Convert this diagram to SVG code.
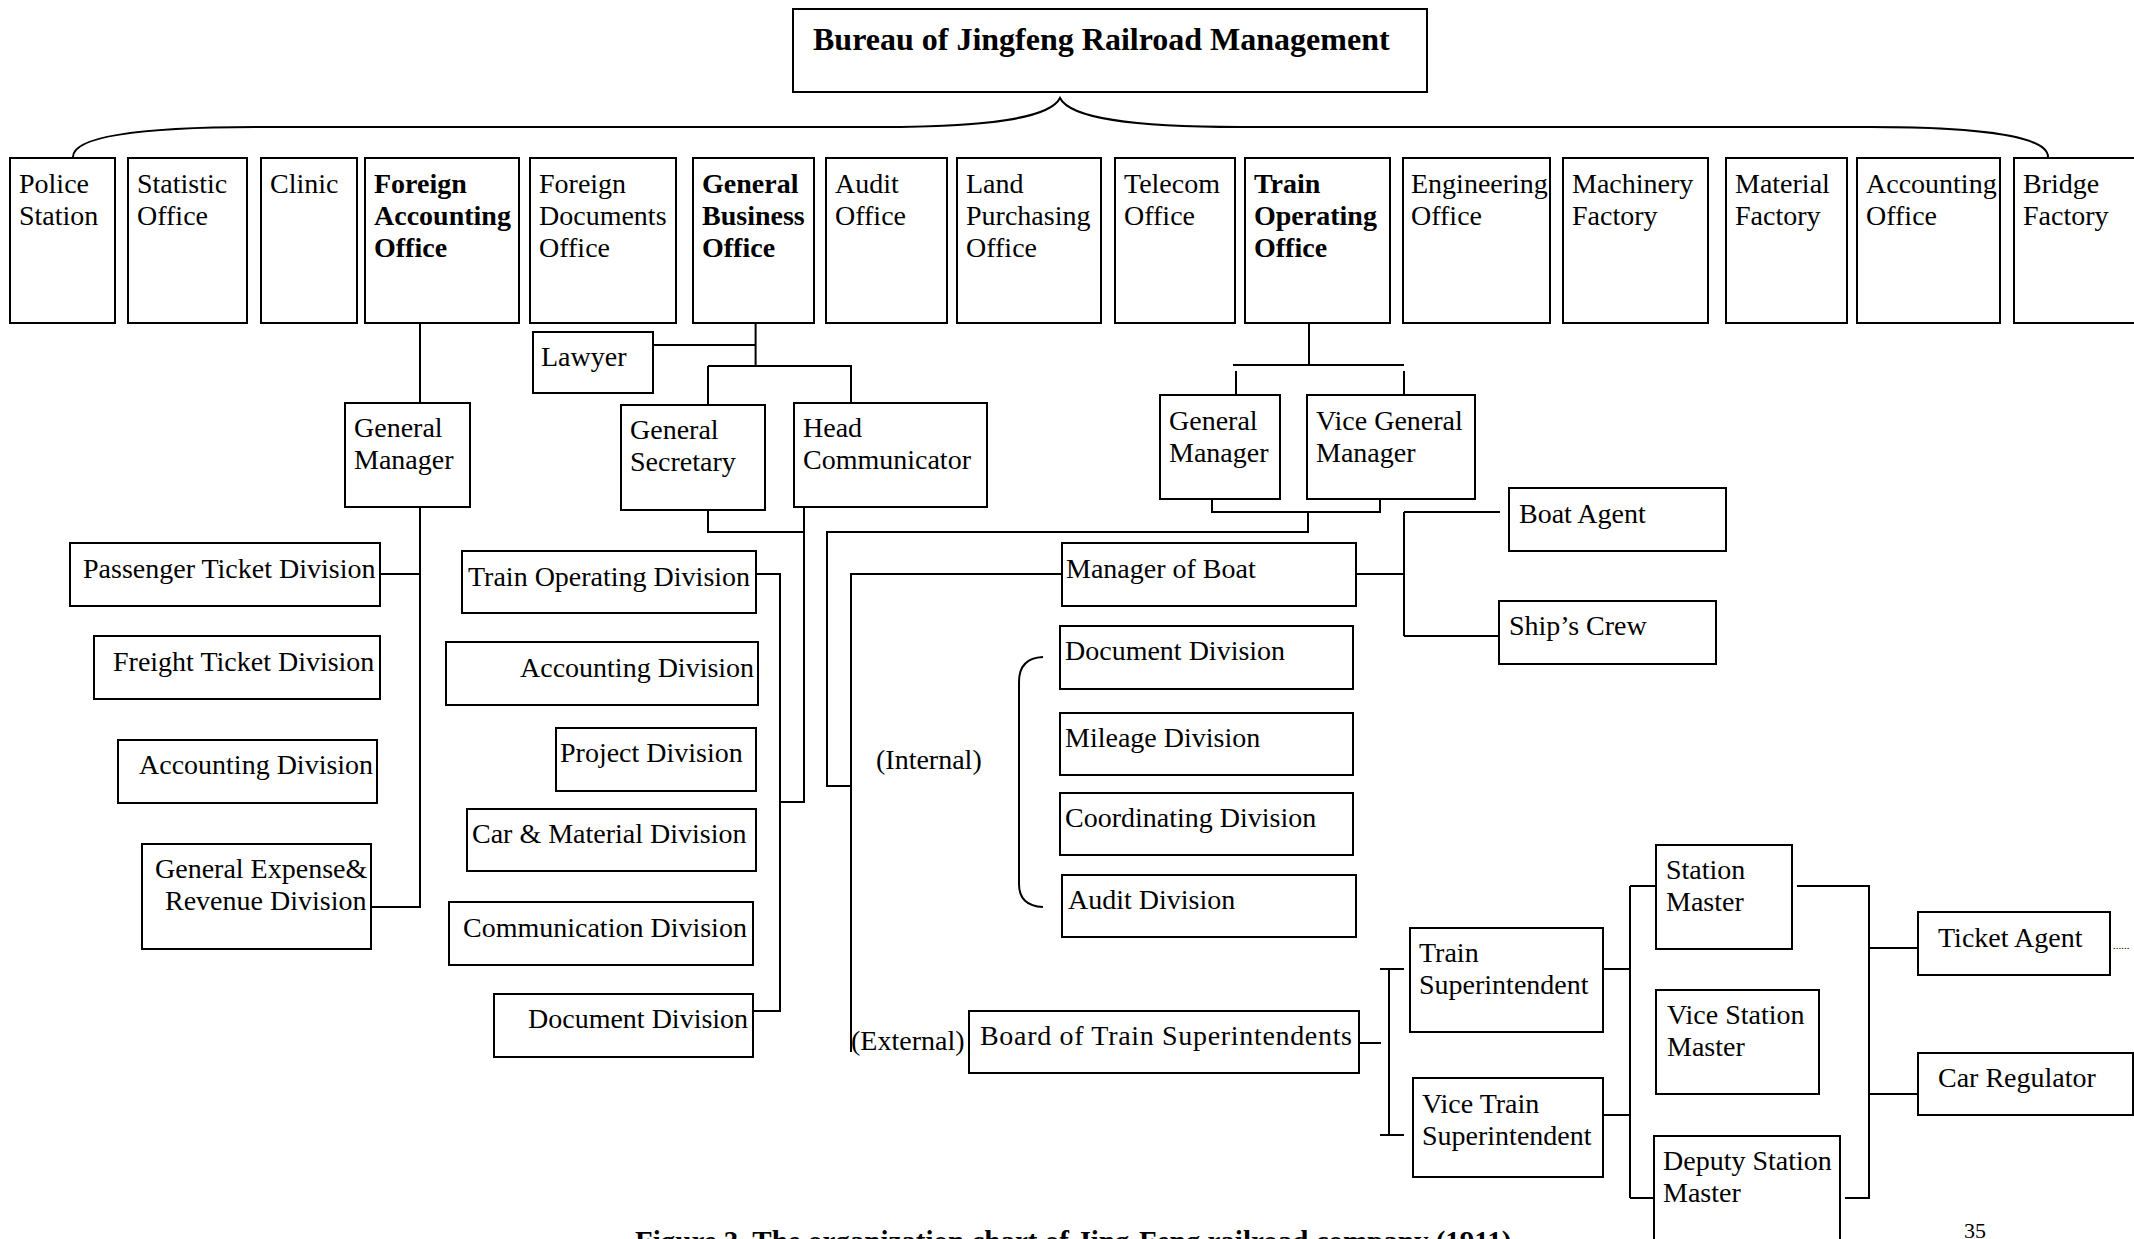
<svg xmlns="http://www.w3.org/2000/svg" width="2134" height="1239" viewBox="0 0 2134 1239">
<style>
rect{fill:#fff;stroke:#000;stroke-width:2}
text{font-family:"Liberation Serif","Times New Roman",serif;font-size:28px;fill:#000}
.b{font-weight:bold}
.t{font-size:32px;font-weight:bold}
#connectors path{fill:none;stroke:#000;stroke-width:2}
</style>
<rect x="0" y="0" width="2134" height="1239" style="stroke:none"/>
<g id="connectors">
<path d="M73,157 C73,136 140,127 260,127 L880,127 C990,127 1050,118 1060,98 C1070,118 1130,127 1240,127 L1870,127 C1990,127 2048,138 2048,157"/>
<path d="M420,323 V403 M420,507 V907 H371 M373,574 H420"/>
<path d="M755.6,323 V366 M653,345 H755.6 M708,366 H851 V403 M708,366 V405"/>
<path d="M708,510 V532 H804 M804,507 V802 H780"/>
<path d="M756,574 H780 V1011 H753"/>
<path d="M1309,323 V365 M1233,365 H1404 M1236,371 V395 M1404,371 V395"/>
<path d="M1212,499 V512 H1380 V499 M1308,512 V532 H827 V786 H851"/>
<path d="M1062,574 H851 V1052"/>
<path d="M1356,574 H1404 M1404,512 V636 M1404,512 H1500 M1404,636 H1499"/>
<path d="M1043,657 Q1019,658 1019,682 V884 Q1019,906 1043,907"/>
<path d="M1358,1043 H1381 M1389,969 V1135 M1380,969 H1404 M1380,1135 H1404"/>
<path d="M1603,969 H1630 M1603,1115 H1630 M1630,886 V1198 M1630,886 H1656 M1630,1198 H1654"/>
<path d="M1797,886 H1869 V1198 H1845 M1869,948 H1918 M1869,1094 H1918"/>
</g>
<g id="bureau"><rect x="793" y="9" width="634" height="83"/><text class="t" x="813" y="50">Bureau of Jingfeng Railroad Management</text></g>
<g id="police"><rect x="10" y="158" width="105" height="165"/><text x="19" y="193">Police</text><text x="19" y="225">Station</text></g>
<g id="statistic"><rect x="128" y="158" width="119" height="165"/><text x="137" y="193">Statistic</text><text x="137" y="225">Office</text></g>
<g id="clinic"><rect x="261" y="158" width="96" height="165"/><text x="270" y="193">Clinic</text></g>
<g id="foreign-accounting"><rect x="365" y="158" width="154" height="165"/><text class="b" x="374" y="193">Foreign</text><text class="b" x="374" y="225">Accounting</text><text class="b" x="374" y="257">Office</text></g>
<g id="foreign-documents"><rect x="530" y="158" width="146" height="165"/><text x="539" y="193">Foreign</text><text x="539" y="225">Documents</text><text x="539" y="257">Office</text></g>
<g id="general-business"><rect x="693" y="158" width="121" height="165"/><text class="b" x="702" y="193">General</text><text class="b" x="702" y="225">Business</text><text class="b" x="702" y="257">Office</text></g>
<g id="audit-office"><rect x="826" y="158" width="121" height="165"/><text x="835" y="193">Audit</text><text x="835" y="225">Office</text></g>
<g id="land"><rect x="957" y="158" width="144" height="165"/><text x="966" y="193">Land</text><text x="966" y="225">Purchasing</text><text x="966" y="257">Office</text></g>
<g id="telecom"><rect x="1115" y="158" width="120" height="165"/><text x="1124" y="193">Telecom</text><text x="1124" y="225">Office</text></g>
<g id="train-operating"><rect x="1245" y="158" width="145" height="165"/><text class="b" x="1254" y="193">Train</text><text class="b" x="1254" y="225">Operating</text><text class="b" x="1254" y="257">Office</text></g>
<g id="engineering"><rect x="1403" y="158" width="147" height="165"/><text x="1411" y="193">Engineering</text><text x="1411" y="225">Office</text></g>
<g id="machinery"><rect x="1563" y="158" width="145" height="165"/><text x="1572" y="193">Machinery</text><text x="1572" y="225">Factory</text></g>
<g id="material"><rect x="1726" y="158" width="121" height="165"/><text x="1735" y="193">Material</text><text x="1735" y="225">Factory</text></g>
<g id="accounting-office"><rect x="1857" y="158" width="143" height="165"/><text x="1866" y="193">Accounting</text><text x="1866" y="225">Office</text></g>
<g id="bridge"><rect x="2014" y="158" width="150" height="165"/><text x="2023" y="193">Bridge</text><text x="2023" y="225">Factory</text></g>
<g id="gm1"><rect x="345" y="403" width="125" height="104"/><text x="354" y="437">General</text><text x="354" y="469">Manager</text></g>
<g id="lawyer"><rect x="533" y="332" width="120" height="61"/><text x="541" y="366">Lawyer</text></g>
<g id="gen-secretary"><rect x="621" y="405" width="144" height="105"/><text x="630" y="439">General</text><text x="630" y="471">Secretary</text></g>
<g id="head-comm"><rect x="794" y="403" width="193" height="104"/><text x="803" y="437">Head</text><text x="803" y="469">Communicator</text></g>
<g id="passenger"><rect x="70" y="543" width="310" height="63"/><text x="83" y="578">Passenger Ticket Division</text></g>
<g id="freight"><rect x="94" y="636" width="286" height="63"/><text x="113" y="671">Freight Ticket Division</text></g>
<g id="accounting-div-l"><rect x="118" y="740" width="259" height="63"/><text x="139" y="774">Accounting Division</text></g>
<g id="gen-expense"><rect x="142" y="844" width="229" height="105"/><text x="155" y="878">General Expense&amp;</text><text x="165" y="910">Revenue Division</text></g>
<g id="train-op-div"><rect x="462" y="551" width="294" height="62"/><text x="468" y="586">Train Operating Division</text></g>
<g id="accounting-div-m"><rect x="446" y="642" width="312" height="63"/><text x="520" y="677">Accounting Division</text></g>
<g id="project-div"><rect x="556" y="728" width="200" height="63"/><text x="560" y="762">Project Division</text></g>
<g id="car-material"><rect x="467" y="809" width="289" height="62"/><text x="472" y="843">Car &amp; Material Division</text></g>
<g id="communication"><rect x="449" y="902" width="304" height="63"/><text x="463" y="937">Communication Division</text></g>
<g id="document-div-m"><rect x="494" y="994" width="259" height="63"/><text x="528" y="1028">Document Division</text></g>
<g id="gm2"><rect x="1160" y="395" width="120" height="104"/><text x="1169" y="430">General</text><text x="1169" y="462">Manager</text></g>
<g id="vgm"><rect x="1307" y="395" width="168" height="104"/><text x="1316" y="430">Vice General</text><text x="1316" y="462">Manager</text></g>
<g id="manager-boat"><rect x="1062" y="543" width="294" height="63"/><text x="1066" y="578">Manager of Boat</text></g>
<g id="boat-agent"><rect x="1509" y="488" width="217" height="63"/><text x="1519" y="523">Boat Agent</text></g>
<g id="ships-crew"><rect x="1499" y="601" width="217" height="63"/><text x="1509" y="635">Ship’s Crew</text></g>
<g id="document-div-r"><rect x="1060" y="626" width="293" height="63"/><text x="1065" y="660">Document Division</text></g>
<g id="mileage"><rect x="1060" y="713" width="293" height="62"/><text x="1065" y="747">Mileage Division</text></g>
<g id="coordinating"><rect x="1060" y="793" width="293" height="62"/><text x="1065" y="827">Coordinating Division</text></g>
<g id="audit-div"><rect x="1062" y="875" width="294" height="62"/><text x="1068" y="909">Audit Division</text></g>
<g id="internal-label"><text x="876" y="769">(Internal)</text></g>
<g id="external-label"><text x="851" y="1050">(External)</text></g>
<g id="board"><rect x="969" y="1011" width="390" height="62"/><text x="980" y="1045" textLength="372" lengthAdjust="spacing">Board of Train Superintendents</text></g>
<g id="train-supt"><rect x="1410" y="928" width="193" height="104"/><text x="1419" y="962">Train</text><text x="1419" y="994">Superintendent</text></g>
<g id="vice-train-supt"><rect x="1413" y="1078" width="190" height="99"/><text x="1422" y="1113">Vice Train</text><text x="1422" y="1145">Superintendent</text></g>
<g id="station-master"><rect x="1656" y="845" width="136" height="104"/><text x="1666" y="879">Station</text><text x="1666" y="911">Master</text></g>
<g id="vice-station-master"><rect x="1656" y="990" width="163" height="104"/><text x="1667" y="1024">Vice Station</text><text x="1667" y="1056">Master</text></g>
<g id="deputy-station-master"><rect x="1654" y="1136" width="186" height="115"/><text x="1663" y="1170">Deputy Station</text><text x="1663" y="1202">Master</text></g>
<g id="ticket-agent"><rect x="1918" y="912" width="192" height="63"/><text x="1938" y="947">Ticket Agent</text><text x="2113" y="949" style="font-size:11px">......</text></g>
<g id="car-regulator"><rect x="1918" y="1053" width="215" height="62"/><text x="1938" y="1087">Car Regulator</text></g>
<text x="1964" y="1238" style="font-size:22px">35</text>
<text class="b" x="635" y="1251" style="font-size:29px">Figure 3. The organization chart of Jing-Feng railroad company (1911)</text>
</svg>
